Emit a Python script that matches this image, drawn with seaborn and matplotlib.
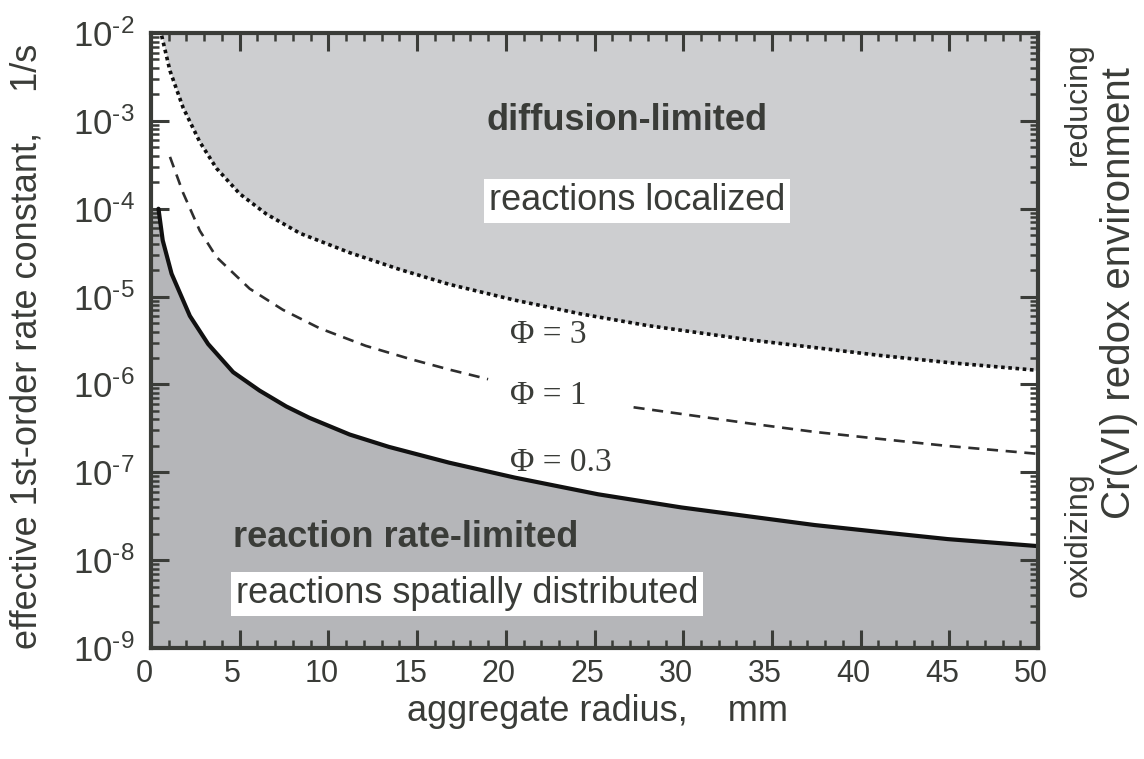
import numpy as np
import pandas as pd
import matplotlib
matplotlib.use("Agg")
import matplotlib.pyplot as plt
import matplotlib.transforms as mtransforms
from matplotlib.ticker import FixedLocator, MultipleLocator, LogLocator, FuncFormatter, NullFormatter
import seaborn as sns

# ---------------- data ----------------
# aggregate radius (mm) and log10 of effective 1st-order rate constant (1/s)
phi3_radius = [0.6, 1.07, 1.81, 2.75, 3.69, 5.0, 6.5, 8.4, 11.2, 14.0, 16.8,
               20.5, 24.3, 28.0, 33.65, 37.4, 41.1, 44.9, 50.0]
phi3_log_k = [-2.03, -2.43, -2.85, -3.24, -3.54, -3.83, -4.06, -4.28, -4.50, -4.69, -4.86,
              -5.04, -5.20, -5.33, -5.49, -5.58, -5.67, -5.75, -5.84]

phi1_radius = [1.07, 1.81, 2.75, 3.69, 5.56, 7.43, 9.5, 12.1, 14.6, 16.8, 19.0,
               27.2, 33.6, 37.4, 41.1, 44.9, 50.0]
phi1_log_k = [-3.41, -3.82, -4.25, -4.55, -4.91, -5.15, -5.36, -5.56, -5.71, -5.83, -5.94,
              -6.26, -6.44, -6.54, -6.62, -6.70, -6.79]
phi1_segment = [0, 0, 0, 0, 0, 0, 0, 0, 0, 0, 0,
                1, 1, 1, 1, 1, 1]

phi03_radius = [0.42, 0.66, 1.16, 2.19, 3.22, 4.63, 6.12, 7.62, 8.93, 11.2, 13.4, 16.8,
                20.5, 25.2, 29.9, 33.65, 37.4, 41.1, 44.9, 50.0]
phi03_log_k = [-4.0, -4.36, -4.74, -5.22, -5.54, -5.86, -6.07, -6.25, -6.38, -6.57, -6.71, -6.89,
               -7.06, -7.25, -7.40, -7.50, -7.60, -7.68, -7.76, -7.84]

x_ticks = [0, 5, 10, 15, 20, 25, 30, 35, 40, 45, 50]
y_decades = [-9, -8, -7, -6, -5, -4, -3, -2]

curve_labels = ["\u03a6 = 3", "\u03a6 = 1", "\u03a6 = 0.3"]

# ---------------- style ----------------
sns.set_style("ticks")
plt.rcParams["font.family"] = ["Liberation Sans", "DejaVu Sans"]
plt.rcParams["mathtext.fontset"] = "custom"
plt.rcParams["mathtext.rm"] = "Liberation Sans"
plt.rcParams["mathtext.it"] = "Liberation Sans:italic"
plt.rcParams["mathtext.bf"] = "Liberation Sans:bold"

INK = "#3a3c38"
LIGHT = "#cdced0"
DARK = "#b5b6b9"

fig = plt.figure(figsize=(11.44, 7.59), dpi=100)
ax = fig.add_axes([0.1320, 0.1462, 0.7754, 0.8103])
ax.set_axisbelow(False)
ax.set_yscale("log")
ax.set_xlim(x_ticks[0], x_ticks[-1])
ax.set_ylim(10.0 ** y_decades[0], 10.0 ** y_decades[-1])

df3 = pd.DataFrame({"radius": phi3_radius, "k": 10.0 ** np.array(phi3_log_k)})
df1 = pd.DataFrame({"radius": phi1_radius, "k": 10.0 ** np.array(phi1_log_k), "segment": phi1_segment})
df03 = pd.DataFrame({"radius": phi03_radius, "k": 10.0 ** np.array(phi03_log_k)})

# shaded regimes
ylo, yhi = ax.get_ylim()
xlo = ax.get_xlim()[0]
ax.fill_between(df3["radius"], df3["k"], yhi, color=LIGHT, lw=0, zorder=1)
fill_x = np.concatenate([[xlo], df03["radius"].to_numpy()])
fill_y = np.concatenate([[df03["k"].iloc[0]], df03["k"].to_numpy()])
ax.fill_between(fill_x, fill_y, ylo, color=DARK, lw=0, zorder=1)

# curves
sns.lineplot(data=df3, x="radius", y="k", ax=ax, color="#111111", lw=2.6,
             linestyle=(0, (1.0, 1.0)), sort=False, estimator=None, zorder=3)
sns.lineplot(data=df1, x="radius", y="k", units="segment", ax=ax, color="#2e2e2e", lw=1.9,
             linestyle=(0, (4.2, 2.9)), sort=False, estimator=None, zorder=3)
sns.lineplot(data=df03, x="radius", y="k", ax=ax, color="#111111", lw=3.0,
             sort=False, estimator=None, zorder=3)

# axes decoration
for s in ax.spines.values():
    s.set_linewidth(3)
    s.set_color(INK)
    s.set_zorder(5)


def decade_label(v, p):
    return "$10^{\u2010%d}$" % abs(int(round(np.log10(v))))


ax.xaxis.set_major_locator(FixedLocator(x_ticks))
ax.xaxis.set_minor_locator(MultipleLocator(1))
ax.yaxis.set_major_locator(FixedLocator([10.0 ** d for d in y_decades]))
ax.yaxis.set_minor_locator(LogLocator(base=10, subs=np.arange(2, 10), numticks=40))
ax.yaxis.set_minor_formatter(NullFormatter())
ax.yaxis.set_major_formatter(FuncFormatter(decade_label))
ax.xaxis.set_major_formatter(FuncFormatter(lambda v, p: "%d" % v))

ax.tick_params(which="both", direction="in", top=True, right=True, color=INK, labelcolor=INK)
ax.tick_params(which="major", length=13, width=2.2)
ax.tick_params(which="minor", length=6, width=1.8)
ax.tick_params(axis="x", which="major", labelsize=22, pad=8)
ax.tick_params(axis="y", which="major", labelsize=25, pad=12)

shift = mtransforms.ScaledTranslation(-7 / 100, 0, fig.dpi_scale_trans)
for lab in ax.get_xticklabels():
    lab.set_transform(lab.get_transform() + shift)

ax.set_xlabel("aggregate radius,    mm", fontsize=26, color=INK)
ax.xaxis.set_label_coords(0.503, -0.104)
ax.xaxis.label.set_va("center")
ax.set_ylabel("effective 1st-order rate constant,    1/s", fontsize=26, color=INK)
ax.yaxis.set_label_coords(-0.140, 0.490)
ax.yaxis.label.set_va("center")

# region annotations
ax.text(0.537, 0.857, "diffusion-limited", transform=ax.transAxes, ha="center", va="center",
        fontsize=26, fontweight="bold", color=INK, zorder=6)
ax.text(0.548, 0.727, "reactions localized", transform=ax.transAxes, ha="center", va="center",
        fontsize=26, color=INK, zorder=6,
        bbox=dict(boxstyle="square,pad=0.13", fc="white", ec="none"))
ax.text(0.0925, 0.180, "reaction rate-limited", transform=ax.transAxes, ha="left", va="center",
        fontsize=26, fontweight="bold", color=INK, zorder=6)
ax.text(0.0960, 0.088, "reactions spatially distributed", transform=ax.transAxes, ha="left",
        va="center", fontsize=26, color=INK, zorder=6,
        bbox=dict(boxstyle="square,pad=0.13", fc="white", ec="none"))

# curve labels
for lab, ypos in zip(curve_labels, [0.509, 0.410, 0.302]):
    ax.text(0.405, ypos, lab, transform=ax.transAxes, ha="left", va="center",
            fontsize=24, family=["Liberation Serif", "DejaVu Serif"], color=INK, zorder=6)

# right-hand labels
narrow = ["Liberation Sans Narrow", "Liberation Sans", "DejaVu Sans"]
fig.text(0.9425, 0.8640, "reducing", rotation=90, ha="center", va="center", fontsize=23,
         family=narrow, color=INK)
fig.text(0.9425, 0.2950, "oxidizing", rotation=90, ha="center", va="center", fontsize=23,
         family=narrow, color=INK)
fig.text(0.9780, 0.6140, "Cr(VI) redox environment", rotation=90, ha="center", va="center",
         fontsize=29, color=INK)

fig.savefig("out.png", dpi=100)
